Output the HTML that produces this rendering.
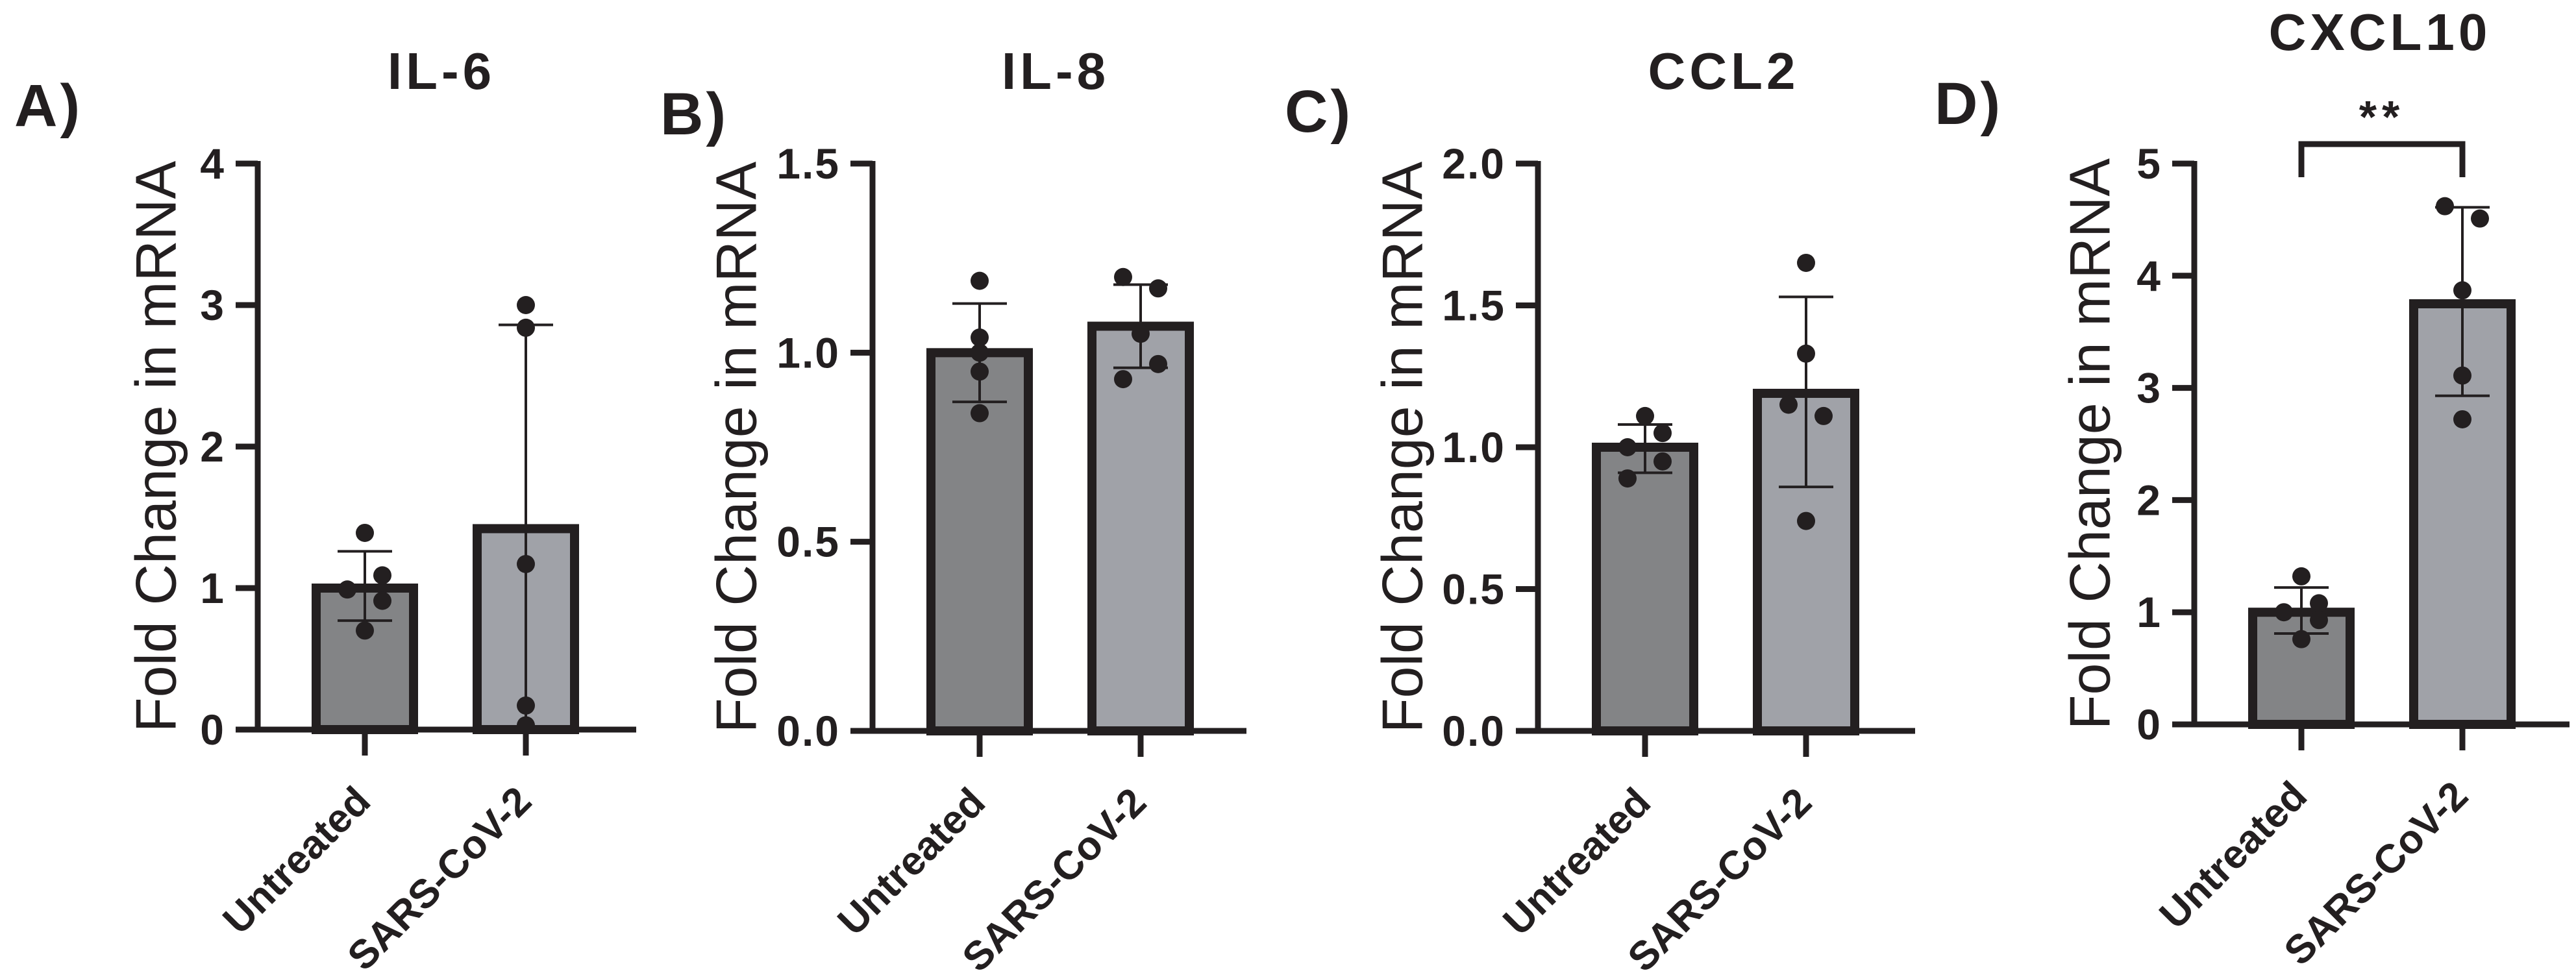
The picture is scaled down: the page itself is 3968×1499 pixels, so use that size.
<!DOCTYPE html>
<html><head><meta charset="utf-8">
<style>
html,body{margin:0;padding:0;background:#fff;}
svg{display:block;font-family:"Liberation Sans",Arial,sans-serif;}
</style></head>
<body>
<svg id="fig" width="3968" height="1499" viewBox="0 0 3968 1499" xmlns="http://www.w3.org/2000/svg"></svg>
<script>
// ---- data ----
const categories = ["Untreated", "SARS-CoV-2"];
const panelTitles = ["IL-6", "IL-8", "CCL2", "CXCL10"];
const panelLetters = ["A)", "B)", "C)", "D)"];
const yMaxes = [4, 1.5, 2, 5];
const tickValsA = [0, 1, 2, 3, 4];
const tickLabelsA = ["0", "1", "2", "3", "4"];
const tickValsB = [0, 0.5, 1.0, 1.5];
const tickLabelsB = ["0.0", "0.5", "1.0", "1.5"];
const tickValsC = [0, 0.5, 1.0, 1.5, 2.0];
const tickLabelsC = ["0.0", "0.5", "1.0", "1.5", "2.0"];
const tickValsD = [0, 1, 2, 3, 4, 5];
const tickLabelsD = ["0", "1", "2", "3", "4", "5"];
// bar means [untreated, sars]
const meansA = [1.0, 1.42];
const meansB = [1.0, 1.07];
const meansC = [1.0, 1.19];
const meansD = [1.0, 3.75];
// error bar [low, high]
const errA = [[0.77, 1.26], [0.0, 2.86]];
const errB = [[0.87, 1.13], [0.96, 1.18]];
const errC = [[0.91, 1.08], [0.86, 1.53]];
const errD = [[0.81, 1.22], [2.93, 4.61]];
// individual points
const ptsA = [[1.39, 1.09, 0.99, 0.91, 0.70], [3.00, 2.84, 1.17, 0.17, 0.03]];
const ptsB = [[1.19, 1.04, 1.00, 0.95, 0.84], [1.20, 1.17, 1.05, 0.97, 0.93]];
const ptsC = [[1.11, 1.05, 1.00, 0.95, 0.89], [1.65, 1.33, 1.15, 1.11, 0.74]];
const ptsD = [[1.32, 1.08, 1.00, 0.93, 0.76], [4.62, 4.51, 3.87, 3.11, 2.72]];
// horizontal jitter slot per point (-1 left, 0 center, 1 right)
const jitA = [[0, 1, -1, 1, 0], [0, 0, 0, 0, 0]];
const jitB = [[0, 0, 0, 0, 0], [-1, 1, 0, 1, -1]];
const jitC = [[0, 1, -1, 1, -1], [0, 0, -1, 1, 0]];
const jitD = [[0, 1, -1, 1, 0], [-1, 1, 0, 0, 0]];
const sigLabel = "**";

// ---- layout ----
const layouts = [
  {ax: 397, top: 252, bot: 1124, xEnd: 980, lx: 22, ly: 194, tx: 680, ty: 137, yt: 240},
  {ax: 1344, top: 252, bot: 1126, xEnd: 1920, lx: 1017, ly: 207, tx: 1626, ty: 137, yt: 1134},
  {ax: 2369, top: 252, bot: 1126, xEnd: 2950, lx: 1979, ly: 203, tx: 2655, ty: 137, yt: 2160},
  {ax: 3380, top: 252, bot: 1116, xEnd: 3958, lx: 2980, ly: 191, tx: 3666, ty: 77, yt: 3219}
];
const panels = [
  {ticks: tickValsA, labels: tickLabelsA, means: meansA, err: errA, pts: ptsA, jit: jitA},
  {ticks: tickValsB, labels: tickLabelsB, means: meansB, err: errB, pts: ptsB, jit: jitB},
  {ticks: tickValsC, labels: tickLabelsC, means: meansC, err: errC, pts: ptsC, jit: jitC},
  {ticks: tickValsD, labels: tickLabelsD, means: meansD, err: errD, pts: ptsD, jit: jitD}
];

const NS = "http://www.w3.org/2000/svg";
const svg = document.getElementById("fig");
function mk(tag, attrs, parent) {
  const e = document.createElementNS(NS, tag);
  for (const k in attrs) e.setAttribute(k, attrs[k]);
  (parent || svg).appendChild(e);
  return e;
}
const INK = "#231f20";
const barFill = ["#838486", "#a0a2a8"];

panels.forEach((p, i) => {
  const L = layouts[i];
  const g = mk("g", {});
  
  
  const yS = v => L.bot - (v / yMaxes[i]) * (L.bot - L.top);
  const xS = c => L.ax + 165 + c * 248;

  const letter = mk("text", {x: L.lx, y: L.ly, "font-size": 92, "font-weight": "bold", fill: INK, "letter-spacing": 4}, g);
  letter.textContent = panelLetters[i];
  
  

  const title = mk("text", {x: L.tx, y: L.ty, "font-size": 80, "font-weight": "bold", fill: INK, "text-anchor": "middle", "letter-spacing": 6}, g);
  title.textContent = panelTitles[i];
  
  

  const ytc = (L.top + L.bot) / 2;
  const yt = mk("text", {x: L.yt, y: ytc, "font-size": 88, fill: INK, "text-anchor": "middle", "dominant-baseline": "central", transform: `rotate(-90 ${L.yt} ${ytc})`}, g);
  yt.textContent = "Fold Change in mRNA";
  
  

  // bars
  categories.forEach((c, ci) => {
    const cx = xS(ci);
    const yv = yS(p.means[ci]);
    const bar = mk("rect", {x: cx - 75, y: yv, width: 150, height: L.bot - yv, fill: barFill[ci], stroke: INK, "stroke-width": 14}, g);
    
    
  });

  // axes
  const yaxis = mk("line", {x1: L.ax, y1: L.top - 4, x2: L.ax, y2: L.bot, stroke: INK, "stroke-width": 9}, g);
  
  
  const xaxis = mk("line", {x1: L.ax - 34, y1: L.bot, x2: L.xEnd, y2: L.bot, stroke: INK, "stroke-width": 9}, g);
  
  

  p.ticks.forEach((t, ti) => {
    const y = yS(t);
    const tk = mk("line", {x1: L.ax - 34, y1: y, x2: L.ax, y2: y, stroke: INK, "stroke-width": 9}, g);
    
    
    const tl = mk("text", {x: L.ax - 50, y: y + 23, "font-size": 66, "font-weight": "bold", fill: INK, "text-anchor": "end", "letter-spacing": 2}, g);
    tl.textContent = p.labels[ti];
    
    
  });

  categories.forEach((c, ci) => {
    const cx = xS(ci);
    const tk = mk("line", {x1: cx, y1: L.bot, x2: cx, y2: L.bot + 40, stroke: INK, "stroke-width": 9}, g);
    
    
    const ax = cx + 12, ay = L.bot + 114;
    const xl = mk("text", {x: ax, y: ay, "font-size": 62, "font-weight": "bold", fill: INK, "text-anchor": "end", transform: `rotate(-45 ${ax} ${ay})`}, g);
    xl.textContent = c;
    
    

    // error bar
    const [lo, hi] = p.err[ci];
    const eb = mk("line", {x1: cx, y1: yS(lo), x2: cx, y2: yS(hi), stroke: INK, "stroke-width": 4}, g);
    
    
    [lo, hi].forEach(v => {
      const cap = mk("line", {x1: cx - 42, y1: yS(v), x2: cx + 42, y2: yS(v), stroke: INK, "stroke-width": 4}, g);
      
      
    });

    // points
    p.pts[ci].forEach((v, pi) => {
      const dot = mk("circle", {cx: cx + p.jit[ci][pi] * 27, cy: yS(v), r: 14, fill: INK}, g);
      
      
    });
  });

  if (i === 3) {
    const x1 = xS(0), x2 = xS(1);
    const br = mk("path", {d: `M${x1} ${L.top + 21} V${L.top - 30} H${x2} V${L.top + 21}`, fill: "none", stroke: INK, "stroke-width": 9}, g);
    
    
    const st = mk("text", {x: (x1 + x2) / 2, y: L.top - 48, "font-size": 70, "font-weight": "bold", fill: INK, "text-anchor": "middle", "letter-spacing": "8"}, g);
    st.textContent = sigLabel;
    
    
  }
});
</script>
</body></html>
